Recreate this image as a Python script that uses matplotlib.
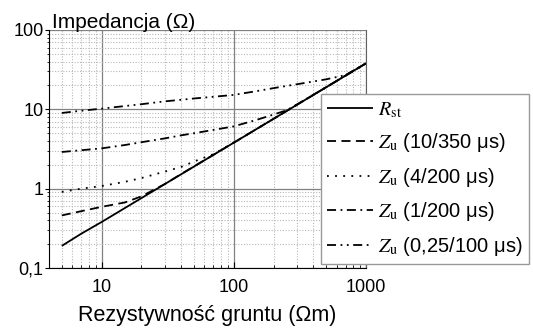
import matplotlib
matplotlib.use("Agg")
import matplotlib.pyplot as plt
from matplotlib.ticker import LogLocator, FixedLocator, FixedFormatter, NullFormatter

plt.rcParams['font.family'] = ['Liberation Sans', 'DejaVu Sans']
plt.rcParams['mathtext.fontset'] = 'stix'

rho = [5, 7, 10, 15, 20, 30, 40, 50, 70, 100, 150, 200, 250, 300, 500, 700, 1000]
R_st = [0.19, 0.27, 0.38, 0.57, 0.76, 1.14, 1.52, 1.9, 2.66, 3.8, 5.7, 7.6, 9.5, 11.4, 19.0, 26.6, 38.0]
Z_10_350 = [0.46, 0.52, 0.59, 0.67, 0.80, 1.14, 1.53, 1.91, 2.67, 3.8, 5.7, 7.6, 9.5, 11.4, 19.0, 26.6, 38.0]
Z_4_200 = [0.91, 1.0, 1.08, 1.22, 1.36, 1.64, 1.88, 2.2, 2.72, 3.82, 5.7, 7.6, 9.5, 11.4, 19.0, 26.6, 38.0]
Z_1_200 = [2.9, 3.05, 3.22, 3.55, 3.85, 4.3, 4.7, 5.0, 5.5, 6.1, 7.4, 8.6, 9.7, 11.5, 19.0, 26.6, 38.0]
Z_025_100 = [9.0, 9.6, 10.2, 11.0, 11.6, 12.6, 13.2, 13.7, 14.4, 15.2, 17.0, 18.5, 19.7, 20.7, 23.9, 27.0, 38.0]

series = [
    (R_st, r"$R_{\mathrm{st}}$", (0, ())),
    (Z_10_350, r"$Z_{\mathrm{u}}$ (10/350 μs)", (0, (5, 3))),
    (Z_4_200, r"$Z_{\mathrm{u}}$ (4/200 μs)", (0, (1, 3.5))),
    (Z_1_200, r"$Z_{\mathrm{u}}$ (1/200 μs)", (0, (5, 2.5, 1, 2.5))),
    (Z_025_100, r"$Z_{\mathrm{u}}$ (0,25/100 μs)", (0, (5, 2.5, 1, 2.5, 1, 2.5))),
]

fig = plt.figure(figsize=(5.33, 3.28), dpi=100)
ax = fig.add_axes([49/533, 1-268/328, (366-49)/533, (268-30)/328])
ax.set_xscale('log')
ax.set_yscale('log')
ax.set_xlim(4, 1000)
ax.set_ylim(0.1, 100)

ax.grid(which='major', color='#808080', linestyle='-', linewidth=0.9)
ax.grid(which='minor', color='#b8b8b8', linestyle=(0, (1, 1.5)), linewidth=0.8)
ax.set_axisbelow(True)

for vals, lab, ls in series:
    ax.plot(rho, vals, color='black', linestyle=ls, linewidth=1.3, label=lab)

ax.xaxis.set_major_locator(FixedLocator([10, 100, 1000]))
ax.xaxis.set_major_formatter(FixedFormatter(['10', '100', '1000']))
ax.xaxis.set_minor_locator(LogLocator(base=10, subs=range(2, 10)))
ax.xaxis.set_minor_formatter(NullFormatter())
ax.yaxis.set_major_locator(FixedLocator([0.1, 1, 10, 100]))
ax.yaxis.set_major_formatter(FixedFormatter(['0,1', '1', '10', '100']))
ax.yaxis.set_minor_locator(LogLocator(base=10, subs=range(2, 10)))
ax.yaxis.set_minor_formatter(NullFormatter())

ax.tick_params(axis='x', which='major', direction='in', length=4, labelsize=13, pad=8)
ax.tick_params(axis='x', which='minor', direction='in', length=2.5)
ax.tick_params(axis='y', which='major', direction='out', length=3, labelsize=13, pad=1)
ax.tick_params(axis='y', which='minor', direction='out', length=1.5)

ax.spines['top'].set_visible(False)
ax.spines['right'].set_color('#606060')

leg = fig.legend(loc='upper left', bbox_to_anchor=(321/533, 1-94/328), fontsize=14.5,
                 frameon=True, fancybox=False, edgecolor='#999999', framealpha=1,
                 handlelength=2.3, handletextpad=0.25, labelspacing=0.57,
                 borderpad=0.3, borderaxespad=0)
leg.get_frame().set_linewidth(1.0)

fig.text(52/533, 1-28/328, "Impedancja (Ω)", fontsize=15, ha='left', va='baseline')
fig.text(207.5/533, 1-321/328, "Rezystywność gruntu (Ωm)", fontsize=15.5, ha='center', va='baseline')

fig.savefig('out.png', dpi=100)
